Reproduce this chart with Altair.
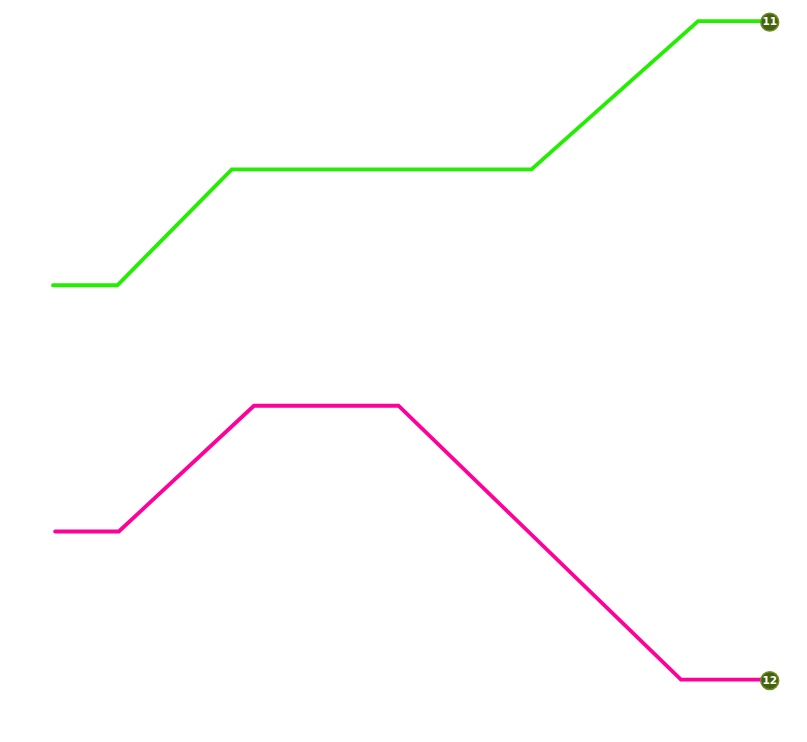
import altair as alt
import pandas as pd

# Series
green_x = [0.0, 0.9, 2.5, 6.69, 9.02, 10.0]
green_y = [59.9, 59.9, 77.5, 77.5, 100.0, 100.0]
pink_x = [0.03, 0.92, 2.81, 4.83, 8.78, 10.0]
pink_y = [22.5, 22.5, 41.6, 41.6, 0.0, 0.0]
series_names = ["A", "B"]
end_labels = ["11", "12"]
colors = ["#22ee00", "#ff0099"]

rows = []
for name, xs, ys in [("A", green_x, green_y), ("B", pink_x, pink_y)]:
    for i, (x, y) in enumerate(zip(xs, ys)):
        rows.append({"series": name, "x": x, "y": y, "order": i})
df = pd.DataFrame(rows)

ends = pd.DataFrame({
    "series": series_names,
    "x": [green_x[-1], pink_x[-1]],
    "y": [green_y[-1], pink_y[-1]],
    "label": end_labels,
})

xs = alt.Scale(domain=[-0.629, 10.43], nice=False, zero=False)
ys = alt.Scale(domain=[-8.25, 102.0], nice=False, zero=False)
X = alt.X("x:Q", scale=xs, axis=None)
Y = alt.Y("y:Q", scale=ys, axis=None)

lines = alt.Chart(df).mark_line(strokeWidth=3.8, strokeJoin="miter", strokeCap="round").encode(
    x=X, y=Y, order="order:O",
    color=alt.Color("series:N", scale=alt.Scale(domain=series_names, range=colors), legend=None),
)
dots = alt.Chart(ends).mark_circle(
    size=320, opacity=1, color="#45620a", stroke="#6f8c2c", strokeWidth=1.5, xOffset=1.5, yOffset=1
).encode(x=X, y=Y)
labels = alt.Chart(ends).mark_text(
    color="white", fontSize=10.5, fontWeight="bold", font="DejaVu Sans", dx=1.5, dy=1
).encode(x=X, y=Y, text="label:N")

chart = (lines + dots + labels).properties(
    width=791, height=726, padding=0, autosize=alt.AutoSizeParams(type="none")
).configure_view(stroke=None)

chart.save("out.html", embed_options={"renderer": "svg", "actions": False})
